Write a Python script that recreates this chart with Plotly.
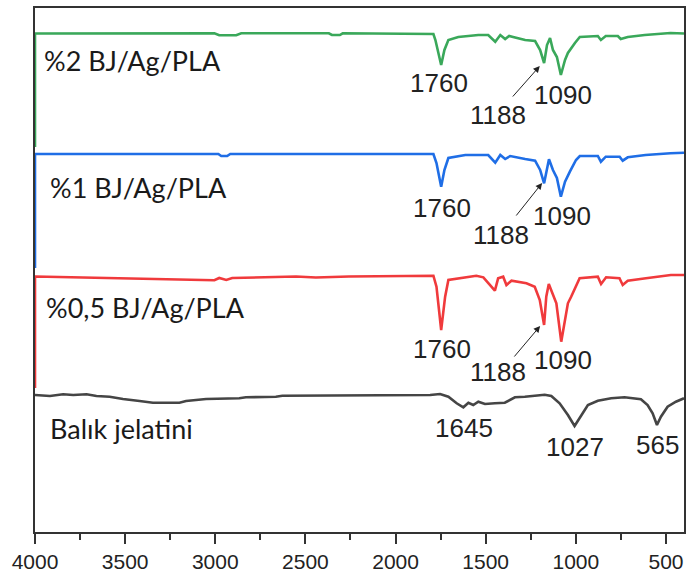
import plotly.graph_objects as go

# ---- data (wavenumber cm-1, intensity a.u.) ----
wn_pla2 = [4000, 4000, 3005, 2978, 2884, 2856, 2370, 2353, 2309, 2293, 1790, 1779, 1747, 1729, 1707,
           1652, 1541, 1486, 1447, 1419, 1392, 1370, 1348, 1281, 1226, 1198, 1176, 1160, 1143,
           1127, 1105, 1083, 1060, 1044, 1005, 978, 878, 861, 834, 767, 751, 712, 618, 475, 400]
y_pla2 = [385, 498.5, 498.7, 496.7, 496.7, 498.7, 498.7, 497, 497, 498.7, 498, 492, 467, 482, 492,
          495, 497, 497, 490.3, 497, 493, 496, 495, 492, 491, 482, 469, 487, 494,
          482, 475, 457, 472, 479, 489, 495, 496, 492, 496, 496, 493, 495, 497, 499, 498.5]

wn_pla1 = [4000, 4000, 2983, 2967, 2934, 2917, 1790, 1773, 1747, 1729, 1707, 1613, 1486, 1447, 1419,
           1392, 1364, 1348, 1281, 1226, 1198, 1176, 1149, 1127, 1105, 1083, 1060, 1033, 999,
           978, 878, 861, 834, 757, 740, 712, 613, 475, 400]
y_pla1 = [264, 378, 378, 376, 376, 378, 378, 369, 345.3, 362, 374, 377, 377, 369.3, 377,
          373, 376, 375.3, 373, 371.3, 362, 348.7, 372.7, 362, 354, 335.3, 350.3, 360.3, 372,
          376, 376, 370.3, 375.3, 375.3, 371.3, 374.7, 377, 378.7, 379.3]

wn_pla05 = [4000, 4000, 3005, 2978, 2939, 2906, 2552, 2442, 2259, 1790, 1773, 1747, 1725, 1707,
            1552, 1513, 1449, 1431, 1403, 1385, 1357, 1274, 1228, 1200, 1176, 1164, 1150, 1132,
            1108, 1081, 1062, 1044, 1026, 979, 878, 860, 832, 758, 740, 712, 611, 473, 400]
y_pla05 = [144, 255.5, 251.7, 254, 252, 254, 255.5, 254.5, 255.5, 256.3, 245.3, 202, 235.3, 252,
           256.3, 254.7, 241.3, 253.7, 255.3, 247, 251.3, 248.7, 245.3, 232, 207, 235.3, 248, 240.3,
           228.7, 190.3, 212, 228.7, 235.3, 253.7, 255.3, 248, 254.7, 253.7, 247, 251.3, 253.7, 257, 257]

wn_gel = [4000, 3917, 3844, 3788, 3714, 3659, 3586, 3512, 3420, 3346, 3199, 3162, 3051, 2867, 2830,
          2664, 2628, 2038, 1965, 1808, 1753, 1707, 1661, 1624, 1596, 1569, 1541, 1504, 1449, 1394,
          1338, 1283, 1173, 1136, 1090, 1044, 1007, 970, 933, 878, 804, 730, 639, 602, 574, 550,
          528, 491, 445, 400]
y_gel = [137, 136, 137.7, 137, 137.7, 136, 135.3, 133, 131, 129.3, 129.3, 131, 133, 133.7, 134.7,
         135.3, 136.3, 136.3, 137, 137, 138, 135.3, 128.7, 124.7, 129.3, 127, 130.3, 128, 128.7, 129.3,
         134.7, 135.3, 137.3, 136, 128.7, 117, 106, 117, 127, 131.3, 133.7, 134.7, 132.7, 127, 118.7, 107,
         115.3, 125.3, 130.3, 133.7]

series_names = ["%2 BJ/Ag/PLA", "%1 BJ/Ag/PLA", "%0,5 BJ/Ag/PLA", "Balık jelatini"]
series_colors = ["#3aa85a", "#1f6ee6", "#f03a3c", "#454545"]
series_x = [wn_pla2, wn_pla1, wn_pla05, wn_gel]
series_y = [y_pla2, y_pla1, y_pla05, y_gel]
name_pos = [(3961, 472), (3928, 345), (3950, 225), (3928, 104)]

# peak labels: text, x, y
peak_labels = [("1760", 1757, 449), ("1188", 1431, 417), ("1090", 1071, 437),
               ("1760", 1740, 324), ("1188", 1414, 297), ("1090", 1077, 316),
               ("1760", 1740, 183), ("1188", 1431, 160), ("1090", 1071, 172),
               ("1645", 1618, 104), ("1027", 1005, 85), ("565", 547, 87)]
# arrows: head x, head y, tail x, tail y
arrows = [(1200, 466, 1357, 434), (1187, 349, 1337, 315), (1198, 206, 1348, 174)]

xticks = [4000, 3500, 3000, 2500, 2000, 1500, 1000, 500]

fig = go.Figure()
for xs, ys, c in zip(series_x, series_y, series_colors):
    fig.add_trace(go.Scatter(x=xs, y=ys, mode="lines",
                             line=dict(color=c, width=2.6), showlegend=False, hoverinfo="skip"))

for name, (px, py) in zip(series_names, name_pos):
    fig.add_annotation(x=px, y=py, text=name, showarrow=False, xanchor="left", yanchor="middle",
                       font=dict(family="Lato, Noto Sans, sans-serif", size=27, color="#1a1a1a"))

for t, px, py in peak_labels:
    fig.add_annotation(x=px, y=py, text=t, showarrow=False, xanchor="center", yanchor="middle",
                       font=dict(family="Arial, Liberation Sans, sans-serif", size=26, color="#222222"))

for hx, hy, tx, ty in arrows:
    fig.add_annotation(x=hx, y=hy, ax=tx, ay=ty, axref="x", ayref="y", xref="x", yref="y",
                       text="", showarrow=True, arrowhead=2, arrowsize=1.3, arrowwidth=1,
                       arrowcolor="#222222")

fig.update_xaxes(range=[4000, 400], tickmode="array", tickvals=xticks,
                 ticktext=[str(v) for v in xticks], ticks="outside", ticklen=10, tickwidth=1.5,
                 tickcolor="#333333", showline=True, mirror=True, linecolor="#333333", linewidth=1.8,
                 showgrid=False, zeroline=False, layer="below traces",
                 tickfont=dict(family="Arial, Liberation Sans, sans-serif", size=21, color="#222222"),
                 minor=dict(tickvals=[3750, 3250, 2750, 2250, 1750, 1250, 750], ticklen=6,
                            tickwidth=1.5, tickcolor="#333333", ticks="outside"))
fig.update_yaxes(range=[0, 524], showticklabels=False, ticks="", showline=True, mirror=True,
                 linecolor="#333333", linewidth=1.8, showgrid=False, zeroline=False,
                 layer="below traces")

fig.update_layout(width=688, height=576, margin=dict(l=35, r=2, t=8, b=44),
                  paper_bgcolor="white", plot_bgcolor="white")

fig.write_html("out.html", config={"displayModeBar": False},
               post_script="document.body.style.margin='0';document.body.style.overflow='hidden';")
